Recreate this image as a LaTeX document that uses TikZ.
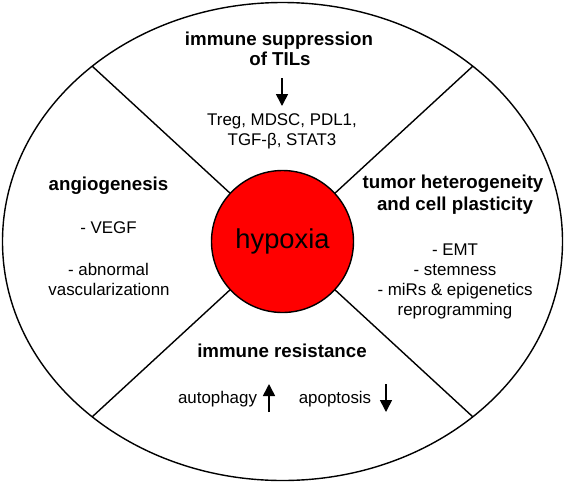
\documentclass[tikz,border=0pt]{standalone}
\usepackage{fontspec}
\setmainfont{Liberation Sans}
\usetikzlibrary{arrows.meta}
\begin{document}
\begin{tikzpicture}[x=1pt,y=-1pt,
  title/.style={font=\fontsize{18.7}{22}\selectfont\bfseries,anchor=base,inner sep=0pt},
  body/.style={font=\fontsize{16.9}{20}\selectfont,anchor=base,inner sep=0pt},
  arr/.style={line width=1.6pt,-{Triangle[width=12pt,length=12pt]}},
  edge/.style={line width=1.4pt}]
\useasboundingbox (0,0) rectangle (565,483);
\coordinate (c) at (282.5,241.5);
\coordinate (ul) at (92,66);
\coordinate (ur) at (473,66);
\coordinate (ll) at (92,417);
\coordinate (lr) at (473,417);
\draw[edge] (c) ellipse [x radius=280, y radius=239];
\draw[edge] (c) -- (ul);
\draw[edge] (c) -- (ur);
\draw[edge] (c) -- (ll);
\draw[edge] (c) -- (lr);
\node[circle,draw,line width=1.4pt,fill=red,minimum size=142pt,inner sep=0pt,
      font=\fontsize{27.3}{30}\selectfont] (hyp) at (c) {hypoxia};
% top
\node[title] (t1) at (279,45) {immune suppression};
\node[title] (t2) at (280,65) {of TILs};
\coordinate (ta) at (282,78);
\coordinate (tb) at (282,106);
\draw[arr] (ta) -- (tb);
\node[body] (t3) at (282,125) {Treg, MDSC, PDL1,};
\node[body] (t4) at (282,145) {TGF-β, STAT3};
% left
\node[title] (l1) at (108.5,190) {angiogenesis};
\node[body] (l2) at (108.5,233) {- VEGF};
\node[body] (l3) at (108.5,275) {- abnormal};
\node[body] (l4) at (109,295) {vascularizationn};
% right
\node[title] (r1) at (453,188) {tumor heterogeneity};
\node[title] (r2) at (455,210) {and cell plasticity};
\node[body] (r3) at (455,255) {- EMT};
\node[body] (r4) at (455,275) {- stemness};
\node[body] (r5) at (455,295) {- miRs \& epigenetics};
\node[body] (r6) at (455,315) {reprogramming};
% bottom
\node[title] (b1) at (282,357) {immune resistance};
\node[body] (b2) at (217.5,403) {autophagy};
\node[body] (b3) at (335,403) {apoptosis};
\coordinate (ua) at (269,412);
\coordinate (ub) at (269,384);
\draw[arr] (ua) -- (ub);
\coordinate (da) at (386,384);
\coordinate (db) at (386,412);
\draw[arr] (da) -- (db);
\end{tikzpicture}
\end{document}
